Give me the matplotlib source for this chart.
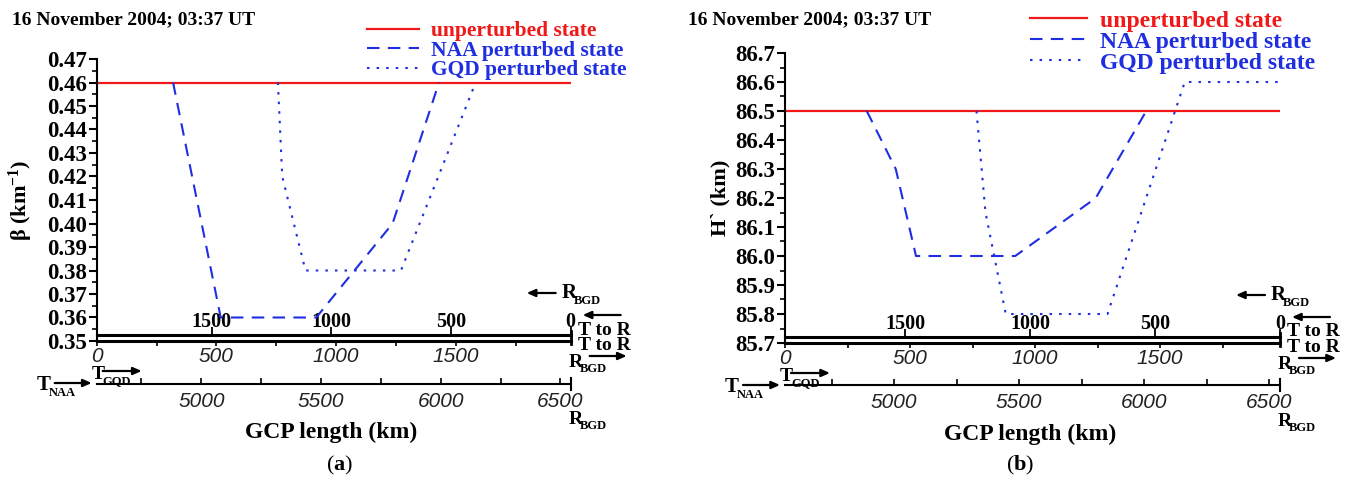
import matplotlib
matplotlib.use("Agg")
import matplotlib.pyplot as plt
from matplotlib.ticker import MultipleLocator, FixedLocator, FormatStrFormatter

plt.rcParams["font.family"] = ["Liberation Serif", "DejaVu Serif"]
plt.rcParams["mathtext.fontset"] = "custom"
plt.rcParams["mathtext.rm"] = "Liberation Serif:bold"
plt.rcParams["mathtext.it"] = "Liberation Serif:bold"
plt.rcParams["mathtext.bf"] = "Liberation Serif:bold"

# path geometry (km)
GQD_BGD = 1980      # GQD -> BGD great circle path length
NAA_SHIFT = 4563    # NAA distance at the GQD end of the path

# beta (km^-1) along the path, x = distance from GQD
beta_x_unpert = [0, 1980]
beta_unpert = [0.46, 0.46]
beta_x_naa = [319, 518, 917, 1236, 1430]
beta_naa = [0.46, 0.36, 0.36, 0.40, 0.46]
beta_x_gqd = [757, 775, 872, 1271, 1583]
beta_gqd = [0.46, 0.42, 0.38, 0.38, 0.46]

# H' (km) along the path
h_x_unpert = [0, 1980]
h_unpert = [86.5, 86.5]
h_x_naa = [327, 443, 524, 921, 1243, 1445]
h_naa = [86.5, 86.3, 86.0, 86.0, 86.2, 86.5]
h_x_gqd = [766, 802, 883, 1290, 1599, 1976]
h_gqd = [86.5, 86.15, 85.8, 85.8, 86.6, 86.6]

top_ticks = [0, 500, 1000, 1500]
bottom_ticks = [0, 500, 1000, 1500]
naa_ticks = [5000, 5500, 6000, 6500]

TITLE = "16 November 2004; 03:37 UT"
LABELS = ["unperturbed state", "NAA perturbed state", "GQD perturbed state"]

RED = "#f01818"
BLUE = "#1f2ee0"
W, H = 1352, 486

fig = plt.figure(figsize=(W / 100, H / 100), dpi=100)


def fx(px):
    return px / W


def fy(py):
    return 1 - py / H


def sub_label(main, sub, x, y, size=15, subsize=9):
    # a bold letter with a small bold subscript, positioned in pixels
    fig.text(fx(x), fy(y), main, fontsize=size, fontweight="bold", va="center", ha="left")
    fig.text(fx(x + 0.62 * size * 1.39 - 1), fy(y + 0.5 * size), sub, fontsize=subsize,
             fontweight="bold", va="center", ha="left")


def arrow(x0, y0, x1, y1):
    fig.add_artist(matplotlib.patches.FancyArrowPatch(
        (fx(x0), fy(y0)), (fx(x1), fy(y1)), transform=fig.transFigure,
        arrowstyle="-|>,head_length=5,head_width=2.2", color="k", lw=1.6,
        shrinkA=0, shrinkB=0))


def panel(rect, yl, ymaj, ymin, yfmt, ylabel, ylab_dx, series, x0, x1, yb, naa_loc,
          title_x, leg_xy, leg_size, xlab_x, tag, tag_x):
    ax = fig.add_axes(rect)
    (xu, yu), (xn, yn), (xg, yg) = series
    l1, = ax.plot(xu, yu, color=RED, lw=1.6)
    l2, = ax.plot(xn, yn, color=BLUE, lw=1.5, dashes=(6, 4))
    l3, = ax.plot(xg, yg, color=BLUE, lw=1.5, dashes=(1.2, 3.4))
    ax.set_xlim(0, GQD_BGD)
    ax.set_ylim(*yl)

    for s in ("top", "right"):
        ax.spines[s].set_visible(False)
    ax.spines["left"].set_linewidth(1.5)
    ax.spines["bottom"].set_linewidth(2.2)

    ax.yaxis.set_major_locator(MultipleLocator(ymaj))
    ax.yaxis.set_minor_locator(MultipleLocator(ymin))
    ax.yaxis.set_major_formatter(FormatStrFormatter(yfmt))
    ax.tick_params(axis="y", which="major", direction="out", length=6, width=1.5,
                   labelsize=16.5, pad=1)
    ax.tick_params(axis="y", which="minor", direction="out", length=3.5, width=1.2)
    for t in ax.get_yticklabels():
        t.set_fontweight("bold")

    ax.xaxis.set_major_locator(FixedLocator(bottom_ticks))
    ax.xaxis.set_minor_locator(MultipleLocator(250))
    ax.tick_params(axis="x", which="both", direction="out", length=3.5, width=1.2,
                   labelsize=15, pad=1, labelcolor="#222222")
    for t in ax.get_xticklabels():
        t.set_family("Liberation Sans")
        t.set_style("italic")

    ax.set_ylabel(ylabel, fontsize=16, fontweight="bold")
    ax.yaxis.set_label_coords(ylab_dx / (x1 - x0), 0.5)

    # distance to the receiver, drawn as a second line just above the base
    rev = ax.secondary_xaxis(6 / (rect[3] * H), functions=(lambda d: GQD_BGD - d,
                                                             lambda d: GQD_BGD - d))
    rev.set_alignment("top")
    rev.spines["top"].set_linewidth(2.2)
    rev.xaxis.set_major_locator(FixedLocator(top_ticks))
    rev.tick_params(axis="x", which="major", direction="out", length=6, width=1.3,
                    labelsize=14.5, pad=-4)
    for t in rev.get_xticklabels():
        t.set_fontweight("bold")

    # NAA distance scale
    naa = ax.secondary_xaxis(naa_loc, functions=(lambda d: d + NAA_SHIFT,
                                                 lambda d: d - NAA_SHIFT))
    naa.spines["bottom"].set_linewidth(1.5)
    naa.xaxis.set_major_locator(FixedLocator(naa_ticks))
    naa.xaxis.set_minor_locator(MultipleLocator(250))
    naa.tick_params(axis="x", which="both", direction="in", length=4, width=1.2,
                    labelsize=15, pad=6, labelcolor="#222222")
    for t in naa.get_xticklabels():
        t.set_family("Liberation Sans")
        t.set_style("italic")

    ax.axvline(GQD_BGD, ymin=-0.012, ymax=0.035, color="k", lw=2, clip_on=False)
    ax.axvline(GQD_BGD, ymin=naa_loc - 0.02, ymax=naa_loc + 0.02, color="k", lw=1.5,
               clip_on=False)

    ax.legend([l1, l2, l3], LABELS, loc="upper left",
              bbox_to_anchor=(fx(leg_xy[0]), fy(leg_xy[1])),
              bbox_transform=fig.transFigure, frameon=False, borderpad=0,
              borderaxespad=0, labelspacing=-0.02, handlelength=2.4,
              handletextpad=0.55, labelcolor=[RED, BLUE, BLUE],
              prop={"family": "Liberation Serif", "weight": "bold", "size": leg_size})

    fig.text(fx(title_x), fy(20), TITLE, fontsize=14, fontweight="bold", va="center")
    fig.text(fx(xlab_x), fy(yb + 91), "GCP length (km)", fontsize=17, fontweight="bold",
             ha="center", va="center")
    fig.text(fx(tag_x), fy(465), "($\\mathbf{%s}$)" % tag, fontsize=16, fontweight="normal",
             ha="center", va="center")

    # receiver / transmitter markers around the scales
    arrow(x1 - 15, yb - 48, x1 - 44, yb - 48)
    sub_label("R", "BGD", x1 - 9, yb - 48)
    arrow(x1 + 50, yb - 26, x1 + 12, yb - 26)
    fig.text(fx(x1 + 7), fy(yb - 11), "T to R", fontsize=14, fontweight="bold", va="center")
    fig.text(fx(x1 + 7), fy(yb + 4), "T to R", fontsize=14, fontweight="bold", va="center")
    sub_label("R", "BGD", x1 - 2, yb + 21, size=14, subsize=9)
    arrow(x1 + 19, yb + 15, x1 + 56, yb + 15)
    sub_label("R", "BGD", x1 - 2, yb + 78, size=14, subsize=9)
    sub_label("T", "GQD", x0 - 5, yb + 33, size=14, subsize=9)
    arrow(x0 + 6, yb + 30, x0 + 45, yb + 30)
    sub_label("T", "NAA", x0 - 60, yb + 44)
    arrow(x0 - 42, yb + 42, x0 - 5, yb + 42)
    return ax


panel([fx(96.7), fy(341), 474 / W, 282 / H], (0.35, 0.47), 0.01, 0.005, "%.2f",
      "β (km$^{-1}$)", -62,
      [(beta_x_unpert, beta_unpert), (beta_x_naa, beta_naa), (beta_x_gqd, beta_gqd)],
      96.7, 570.7, 341, -43 / 282, 12, (367, 21), 15.5, 331, "a", 340)

panel([fx(785), fy(343), 495 / W, 290 / H], (85.7, 86.7), 0.1, 0.05, "%.1f",
      "H` (km)", -55,
      [(h_x_unpert, h_unpert), (h_x_naa, h_naa), (h_x_gqd, h_gqd)],
      785, 1280, 343, -42 / 290, 688, (1030, 10), 17, 1030, "b", 1020)

fig.savefig("out.png", dpi=100)
